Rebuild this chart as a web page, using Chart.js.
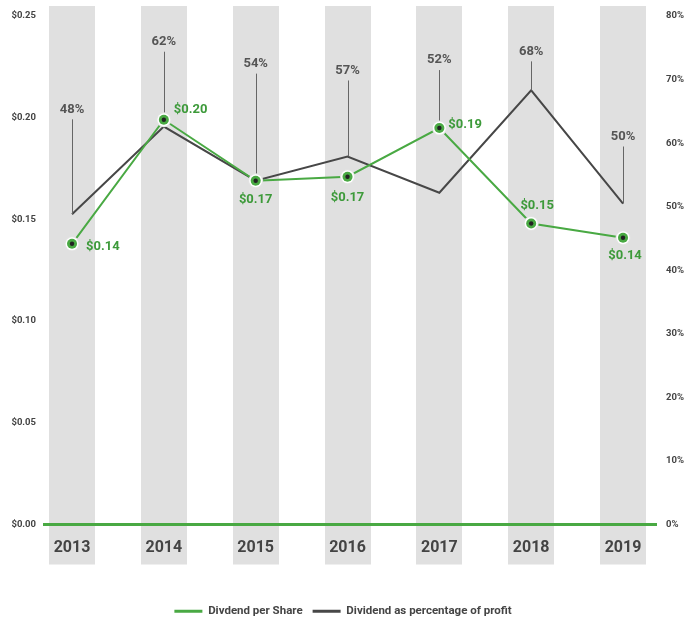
<!DOCTYPE html>
<html><head><meta charset="utf-8">
<script src="https://cdn.jsdelivr.net/npm/chart.js@4/dist/chart.umd.min.js"></script>
<style>html,body{margin:0;padding:0;background:#fff}</style>
</head><body>
<canvas id="c" width="686" height="618"></canvas>
<script>
const years = ['2013', '2014', '2015', '2016', '2017', '2018', '2019'];
const dividendPerShare = [0.138, 0.199, 0.169, 0.171, 0.1949, 0.148, 0.141];
const payoutPct = [48.8, 62.6, 54.1, 57.9, 52.2, 68.3, 50.5];
const leftTicks = [0, 0.05, 0.10, 0.15, 0.20, 0.25];
const rightTicks = [0, 10, 20, 30, 40, 50, 60, 70, 80];
const seriesNames = ['Divdend per Share', 'Dividend as percentage of profit'];

const GREEN = '#49a943';
const GREEN_TXT = '#3d9a3a';
const DARK = '#474747';
const FONT = 'Roboto';

// annotation layout (pixels)
const pctLeader = [95, 68, 107, 76, 58, 29, 57];
const dpsLabelPos = [[14, 3, 'left'], [10, -10, 'left'], [0, 19, 'center'], [0, 21, 'center'], [9, -3, 'left'], [6, -18, 'center'], [2, 18, 'center']];

const decorPlugin = {
  id: 'decor',
  beforeDraw(chart) {
    const {ctx, chartArea, scales} = chart;
    const xs = scales.x;
    ctx.save();
    ctx.fillStyle = '#e0e0e0';
    years.forEach((_, i) => {
      const x = xs.getPixelForValue(i);
      ctx.fillRect(Math.round(x - 23), chartArea.top - 10, 46, chartArea.bottom - chartArea.top + 50);
    });
    ctx.restore();
  },
  beforeDatasetsDraw(chart) {
    const {ctx, chartArea, scales} = chart;
    const y0 = scales.y.getPixelForValue(0);
    ctx.save();
    ctx.strokeStyle = GREEN;
    ctx.lineWidth = 3;
    ctx.beginPath();
    ctx.moveTo(chartArea.left, y0);
    ctx.lineTo(chartArea.right, y0);
    ctx.stroke();
    ctx.restore();
  },
  afterDatasetsDraw(chart) {
    const {ctx} = chart;
    const gm = chart.getDatasetMeta(0).data;
    const dm = chart.getDatasetMeta(1).data;
    ctx.save();
    years.forEach((_, i) => {
      const x = dm[i].x;
      const yb = Math.min(dm[i].y, gm[i].y);
      const yt = yb - pctLeader[i];
      ctx.strokeStyle = '#666';
      ctx.lineWidth = 1;
      ctx.beginPath();
      ctx.moveTo(Math.round(x) + 0.5, yb);
      ctx.lineTo(Math.round(x) + 0.5, yt);
      ctx.stroke();
      ctx.fillStyle = '#555';
      ctx.font = 'bold 13px ' + FONT;
      ctx.textAlign = 'center';
      ctx.textBaseline = 'middle';
      ctx.fillText(Math.floor(payoutPct[i]) + '%', x, yt - 10);
    });
    gm.forEach((p) => {
      ctx.beginPath();
      ctx.arc(p.x, p.y, 7.5, 0, Math.PI * 2);
      ctx.fillStyle = '#e3e3e3';
      ctx.fill();
      ctx.beginPath();
      ctx.arc(p.x, p.y, 6.5, 0, Math.PI * 2);
      ctx.fillStyle = '#fff';
      ctx.fill();
      ctx.beginPath();
      ctx.arc(p.x, p.y, 5, 0, Math.PI * 2);
      ctx.fillStyle = GREEN;
      ctx.fill();
      ctx.beginPath();
      ctx.arc(p.x, p.y, 2.2, 0, Math.PI * 2);
      ctx.fillStyle = '#222';
      ctx.fill();
    });
    gm.forEach((p, i) => {
      const [dx, dy, al] = dpsLabelPos[i];
      ctx.fillStyle = GREEN_TXT;
      ctx.font = 'bold 13px ' + FONT;
      ctx.textAlign = al;
      ctx.textBaseline = 'middle';
      ctx.fillText('$' + dividendPerShare[i].toFixed(2), p.x + dx, p.y + dy);
    });
    ctx.restore();
  }
};

new Chart(document.getElementById('c'), {
  type: 'line',
  data: {
    datasets: [
      {
        label: seriesNames[0],
        data: dividendPerShare.map((v, i) => ({x: i, y: v})),
        borderColor: GREEN,
        backgroundColor: GREEN,
        borderWidth: 2,
        pointRadius: 0,
        yAxisID: 'y',
        tension: 0
      },
      {
        label: seriesNames[1],
        data: payoutPct.map((v, i) => ({x: i, y: v})),
        borderColor: DARK,
        backgroundColor: DARK,
        borderWidth: 2,
        pointRadius: 0,
        yAxisID: 'y1',
        tension: 0
      }
    ]
  },
  options: {
    responsive: false,
    animation: false,
    devicePixelRatio: 1,
    layout: {padding: {top: 16, bottom: -9}},
    plugins: {
      tooltip: {enabled: false},
      legend: {
        position: 'bottom',
        labels: {
          boxWidth: 28,
          boxHeight: 3,
          padding: 10,
          color: '#444',
          font: {family: FONT, size: 11.5, weight: 'bold'},
          generateLabels(chart) {
            return chart.data.datasets.map((d, i) => ({
              text: d.label, fillStyle: d.borderColor, strokeStyle: d.borderColor,
              lineWidth: 0, datasetIndex: i, fontColor: '#444'
            }));
          }
        }
      }
    },
    scales: {
      x: {
        type: 'linear',
        min: -0.316,
        max: 6.37,
        grid: {display: false, drawTicks: false},
        border: {display: false},
        afterBuildTicks(s) { s.ticks = years.map((_, i) => ({value: i})); },
        afterFit(s) { s.height = 71; },
        ticks: {
          padding: 14,
          color: '#444',
          font: {family: FONT, size: 16, weight: 'bold'},
          callback: (v, idx) => years[idx]
        }
      },
      y: {
        position: 'left',
        min: 0, max: 0.25,
        grid: {display: false, drawTicks: false},
        border: {display: false},
        afterBuildTicks(s) { s.ticks = leftTicks.map(v => ({value: v})); },
        afterFit(s) { s.width = 43; },
        ticks: {
          padding: 7,
          color: '#444',
          font: {family: FONT, size: 9.5, weight: 'bold'},
          callback: (v) => '$' + Number(v).toFixed(2)
        }
      },
      y1: {
        position: 'right',
        min: 0, max: 80,
        grid: {display: false, drawTicks: false},
        border: {display: false},
        afterBuildTicks(s) { s.ticks = rightTicks.map(v => ({value: v})); },
        afterFit(s) { s.width = 29; },
        ticks: {
          padding: 9,
          color: '#444',
          font: {family: FONT, size: 9.5, weight: 'bold'},
          callback: (v) => v + '%'
        }
      }
    }
  },
  plugins: [decorPlugin]
});
</script>
</body></html>
